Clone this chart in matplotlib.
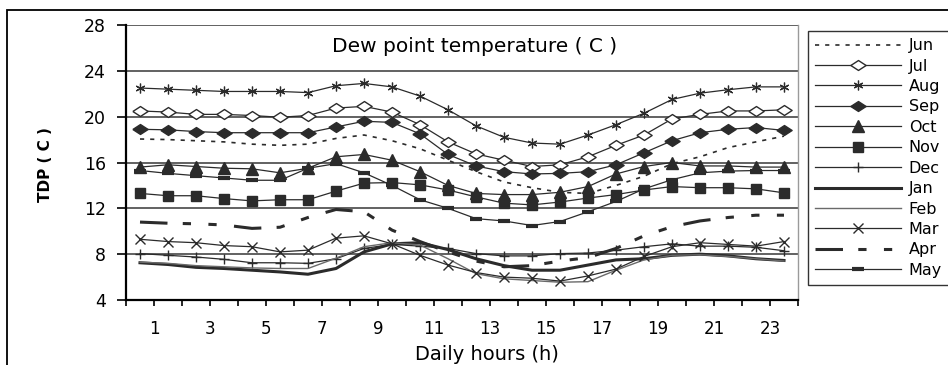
"""
Hourly dew point temperature by month, redrawn from an Excel-style line chart.
"""
import matplotlib
matplotlib.use("Agg")
import matplotlib.pyplot as plt
from matplotlib.patches import Rectangle
import numpy as np

plt.rcParams["font.family"] = ["DejaVu Sans"]

HOURS = np.arange(1, 25)
MONTHS = ["Jun", "Jul", "Aug", "Sep", "Oct", "Nov",
          "Dec", "Jan", "Feb", "Mar", "Apr", "May"]
X_TICK_LABELS = ["1", "3", "5", "7", "9", "11", "13", "15", "17", "19", "21", "23"]
Y_TICKS = [4, 8, 12, 16, 20, 24, 28]

jun = [18.05, 18.0, 17.9, 17.8, 17.6, 17.5, 17.6, 18.1, 18.4, 17.9, 17.2, 16.2,
       15.2, 14.3, 13.8, 13.4, 13.3, 14.0, 14.8, 15.9, 16.5, 17.3, 17.8, 18.3]
jul = [20.5, 20.4, 20.2, 20.2, 20.1, 19.95, 20.1, 20.75, 20.9, 20.4, 19.3, 17.8,
       16.75, 16.2, 15.65, 15.8, 16.5, 17.5, 18.4, 19.8, 20.2, 20.5, 20.5, 20.6]
aug = [22.5, 22.4, 22.3, 22.2, 22.2, 22.2, 22.1, 22.7, 22.9, 22.6, 21.8, 20.6,
       19.2, 18.2, 17.7, 17.6, 18.4, 19.3, 20.3, 21.5, 22.05, 22.35, 22.6, 22.6]
sep = [18.9, 18.85, 18.7, 18.6, 18.6, 18.6, 18.6, 19.1, 19.6, 19.5, 18.5, 16.7,
       15.7, 15.2, 15.0, 15.05, 15.2, 15.8, 16.85, 17.9, 18.6, 18.9, 19.05, 18.8]
octo = [15.6, 15.8, 15.65, 15.5, 15.45, 15.1, 15.5, 16.5, 16.7, 16.2, 15.2, 14.0,
        13.3, 13.2, 13.2, 13.4, 13.9, 15.0, 15.65, 16.0, 15.7, 15.7, 15.6, 15.6]
nov = [13.3, 13.1, 13.1, 12.85, 12.65, 12.75, 12.75, 13.5, 14.2, 14.25, 14.05, 13.6,
       13.0, 12.45, 12.3, 12.55, 12.9, 13.2, 13.6, 13.9, 13.8, 13.8, 13.7, 13.35]
dec = [8.05, 7.9, 7.75, 7.55, 7.25, 7.25, 7.2, 7.6, 8.5, 8.85, 8.7, 8.5,
       8.05, 7.85, 7.85, 8.05, 8.1, 8.35, 8.65, 8.9, 8.7, 8.7, 8.6, 8.3]
jan = [7.25, 7.1, 6.85, 6.75, 6.6, 6.45, 6.25, 6.75, 8.2, 8.9, 9.0, 8.4,
       7.6, 7.0, 6.6, 6.6, 7.05, 7.5, 7.6, 7.9, 8.0, 7.85, 7.6, 7.45]
feb = [7.3, 7.2, 7.0, 6.9, 6.8, 6.75, 6.75, 7.65, 8.65, 9.0, 8.8, 7.6,
       6.3, 5.85, 5.7, 5.55, 5.6, 6.6, 7.5, 7.9, 7.95, 7.8, 7.6, 7.4]
mar = [9.3, 9.1, 9.0, 8.75, 8.65, 8.2, 8.35, 9.4, 9.6, 8.9, 7.9, 7.05,
       6.4, 6.0, 5.9, 5.65, 6.1, 6.7, 7.8, 8.65, 9.0, 8.85, 8.7, 9.1]
apr = [10.8, 10.7, 10.65, 10.55, 10.25, 10.35, 11.2, 11.9, 11.7, 10.1, 9.1, 8.2,
       7.4, 6.9, 7.0, 7.4, 7.7, 8.5, 9.6, 10.4, 10.9, 11.2, 11.4, 11.4]
may = [15.3, 15.05, 14.85, 14.65, 14.45, 14.45, 15.5, 15.9, 15.1, 14.0, 12.75, 12.0,
       11.1, 10.9, 10.5, 10.85, 11.7, 12.6, 13.7, 14.5, 15.1, 15.25, 15.3, 15.3]

SERIES = [jun, jul, aug, sep, octo, nov, dec, jan, feb, mar, apr, may]

INK = "#2b2b2b"
WIDE_DIAMOND = [(-1, 0), (0, 0.65), (1, 0), (0, -0.65), (-1, 0)]

STYLES = {
    "Jun": dict(lw=1.2, dashes=(2.5, 3.6)),
    "Jul": dict(lw=0.9, marker=WIDE_DIAMOND, ms=11, mfc="white", mec=INK, mew=1.0),
    "Aug": dict(lw=0.9, marker=(6, 2, 0), ms=7, mew=0.9),
    "Sep": dict(lw=0.9, marker=WIDE_DIAMOND, ms=11, mfc=INK, mec=INK),
    "Oct": dict(lw=0.9, marker="^", ms=8.5, mfc=INK, mec=INK),
    "Nov": dict(lw=0.9, marker="s", ms=7, mfc=INK, mec=INK),
    "Dec": dict(lw=0.9, marker="+", ms=7, mew=1.0),
    "Jan": dict(lw=2.2),
    "Feb": dict(lw=1.0, color="#6a6a6a"),
    "Mar": dict(lw=0.9, marker="x", ms=6.5, mew=1.0),
    "Apr": dict(lw=2.2, dashes=(9, 5, 2.7, 5.7, 2.7, 5.7)),
    "May": dict(lw=0.9, marker="_", ms=9, mew=3.0),
}

fig = plt.figure(figsize=(9.48, 3.65), dpi=100)
ax = fig.add_axes([126 / 948, 65 / 365, 672 / 948, 275 / 365])

x = HOURS - 0.5
for name, values in zip(MONTHS, SERIES):
    style = dict(color=INK)
    style.update(STYLES[name])
    ax.plot(x, values, label=name, zorder=3, **style)

ax.set_xlim(0, 24)
ax.set_ylim(4, 28)
ax.set_yticks(Y_TICKS)
ax.set_xticks(np.arange(0, 25))
labels = [""] * 25
for lab in X_TICK_LABELS:
    labels[int(lab)] = lab
ax.set_xticklabels(labels)
ax.tick_params(axis="x", direction="out", length=4.5, width=1.2, pad=10,
               labelsize=12, colors="black")
ax.tick_params(axis="y", direction="out", length=6.5, width=1.2, pad=8,
               labelsize=12.5, colors="black")

ax.grid(axis="y", color="#555555", lw=1.3, zorder=1)
ax.set_axisbelow(True)
ax.spines["top"].set_visible(False)
ax.spines["right"].set_color("#9a9a9a")
ax.spines["right"].set_linewidth(1.0)
for side in ("left", "bottom"):
    ax.spines[side].set_color("black")
    ax.spines[side].set_linewidth(1.6)

ax.text(0.519, 0.92, "Dew point temperature ( C )", transform=ax.transAxes,
        ha="center", va="center", fontsize=14.5)

fig.text(487 / 948, 1 - 355 / 365, "Daily hours (h)", ha="center", va="center",
         fontsize=14)
fig.text(46 / 948, 1 - 165 / 365, "TDP ( C )", rotation=90, ha="center",
         va="center", fontsize=11, fontweight="bold")

leg = ax.legend(loc="upper left", bbox_to_anchor=(808 / 948, 1 - 31 / 365),
                bbox_transform=fig.transFigure, fontsize=11.5, frameon=True,
                fancybox=False, handlelength=5.4, handletextpad=0.45,
                labelspacing=0.34, borderpad=0.45, borderaxespad=0)
leg.get_frame().set_edgecolor("black")
leg.get_frame().set_linewidth(1.0)

fig.add_artist(Rectangle((7 / 948, -0.1), 1.2, 1 - 10 / 365 + 0.1,
                         transform=fig.transFigure, fill=False,
                         edgecolor="black", lw=1.3, clip_on=False))

fig.savefig("out.png", dpi=100)
plt.close(fig)
